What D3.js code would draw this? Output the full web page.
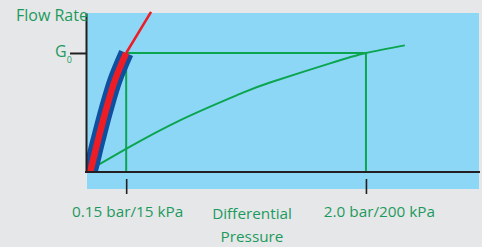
<!DOCTYPE html>
<html>
<head>
<meta charset="utf-8">
<script src="https://cdn.jsdelivr.net/npm/d3@7/dist/d3.min.js"></script>
<style>
  html, body { margin: 0; padding: 0; background: #e6e7e8; }
  svg { display: block; }
  text { font-family: "Open Sans", "Noto Sans", sans-serif; fill: #1c9a5e; }
</style>
</head>
<body>
<svg id="chart" width="482" height="247"></svg>
<script>
// ---- data (schematic) ----
const pressureTicks = [15, 200];                       // kPa
const pressureTickLabels = ["0.15 bar/15 kPa", "2.0 bar/200 kPa"];
const flowTicks = [1];                                 // G0 (relative flow)
const flowTickLabels = ["G", "0"];                     // main + subscript
const xTitle = ["Differential", "Pressure"];
const yTitle = "Flow Rate";

// green system curve
const systemPressure = [-10.6, 14.9, 56.5, 102.8, 126, 172.3, 200, 230];
const systemFlow     = [0.034, 0.194, 0.434, 0.656, 0.752, 0.913, 1.0, 1.064];

// valve characteristic band (blue band with red core)
const bandPressure = [-14.5, -12.9, -6.7, -0.6, 6.4, 15];
const bandFlow     = [-0.05, 0.0, 0.269, 0.521, 0.773, 1.0];

// red extension beyond G0
const extPressure = [15, 34.2];
const extFlow     = [1.0, 1.345];

// ---- layout ----
const svg = d3.select("#chart");
const X0 = 86, X1 = 480, Y0 = 172, Y1 = 13;

const x = d3.scaleLinear().domain([-16, 288]).range([X0, X1]);
const y = d3.scaleLinear().domain([0, 1.336]).range([Y0, Y1]);

// light blue panel
svg.append("rect")
  .attr("x", 87).attr("y", 13)
  .attr("width", 479 - 87).attr("height", 189 - 13)
  .attr("fill", "#8dd7f6");

// clip for plot area
svg.append("clipPath").attr("id", "plotclip")
  .append("rect").attr("x", X0 + 1).attr("y", 0)
  .attr("width", X1 - X0).attr("height", Y0);

const g = svg.append("g").attr("clip-path", "url(#plotclip)");

const green = "#0ba550";

// reference lines at G0 and the two pressures
g.append("line")
  .attr("x1", x(pressureTicks[0])).attr("x2", x(pressureTicks[1]))
  .attr("y1", y(flowTicks[0])).attr("y2", y(flowTicks[0]))
  .attr("stroke", green).attr("stroke-width", 2);
pressureTicks.forEach(p => {
  g.append("line")
    .attr("x1", x(p)).attr("x2", x(p))
    .attr("y1", y(flowTicks[0])).attr("y2", y(0))
    .attr("stroke", green).attr("stroke-width", 2);
});

// system curve
const sysData = systemPressure.map((p, i) => [p, systemFlow[i]]);
g.append("path")
  .datum(sysData)
  .attr("d", d3.line().x(d => x(d[0])).y(d => y(d[1])).curve(d3.curveNatural))
  .attr("fill", "none").attr("stroke", green).attr("stroke-width", 2);

// band
const bandData = bandPressure.map((p, i) => [p, bandFlow[i]]);
const bandLine = d3.line().x(d => x(d[0])).y(d => y(d[1])).curve(d3.curveCatmullRom);
g.append("path").datum(bandData).attr("d", bandLine)
  .attr("fill", "none").attr("stroke", "#0e4f9f").attr("stroke-width", 15)
  .attr("stroke-linecap", "butt");

// red thin extension
const extData = extPressure.map((p, i) => [p, extFlow[i]]);
svg.append("path").datum(extData).attr("d", d3.line().x(d => x(d[0])).y(d => y(d[1])))
  .attr("fill", "none").attr("stroke", "#ee1c25").attr("stroke-width", 2.5);

g.append("path").datum(bandData).attr("d", bandLine)
  .attr("fill", "none").attr("stroke", "#ee1c25").attr("stroke-width", 6.5)
  .attr("stroke-linecap", "butt");

// axes
const axisColor = "#231f20";
const yAxis = svg.append("g")
  .attr("transform", `translate(${X0},0)`)
  .call(d3.axisLeft(y).tickValues(flowTicks).tickSize(16).tickSizeOuter(0).tickFormat(""));
yAxis.selectAll("path, line").attr("stroke", axisColor).attr("stroke-width", 2);

svg.append("line")
  .attr("x1", X0 - 1).attr("x2", X1).attr("y1", Y0).attr("y2", Y0)
  .attr("stroke", axisColor).attr("stroke-width", 2);

const xAxis = svg.append("g")
  .attr("transform", `translate(0,179)`)
  .call(d3.axisBottom(x).tickValues(pressureTicks).tickSize(15).tickFormat(""));
xAxis.select(".domain").remove();
xAxis.selectAll("line").attr("stroke", axisColor).attr("stroke-width", 1.6);

// labels
const labelShift = [1.5, 13.5];
pressureTicks.forEach((p, i) => {
  svg.append("text").attr("x", x(p) + labelShift[i]).attr("y", 217)
    .attr("text-anchor", "middle").attr("font-size", 15.3)
    .text(pressureTickLabels[i]);
});
svg.append("text").attr("x", 252).attr("y", 219)
  .attr("text-anchor", "middle").attr("font-size", 15.3).text(xTitle[0]);
svg.append("text").attr("x", 252).attr("y", 242)
  .attr("text-anchor", "middle").attr("font-size", 15.3).text(xTitle[1]);

svg.append("text").attr("x", 16).attr("y", 21)
  .attr("font-size", 16).text(yTitle);

const g0 = svg.append("text").attr("x", 55).attr("y", y(flowTicks[0]) + 4)
  .attr("font-size", 16);
g0.append("tspan").text(flowTickLabels[0]);
g0.append("tspan").attr("font-size", 9).attr("dy", 6).text(flowTickLabels[1]);
</script>
</body>
</html>
